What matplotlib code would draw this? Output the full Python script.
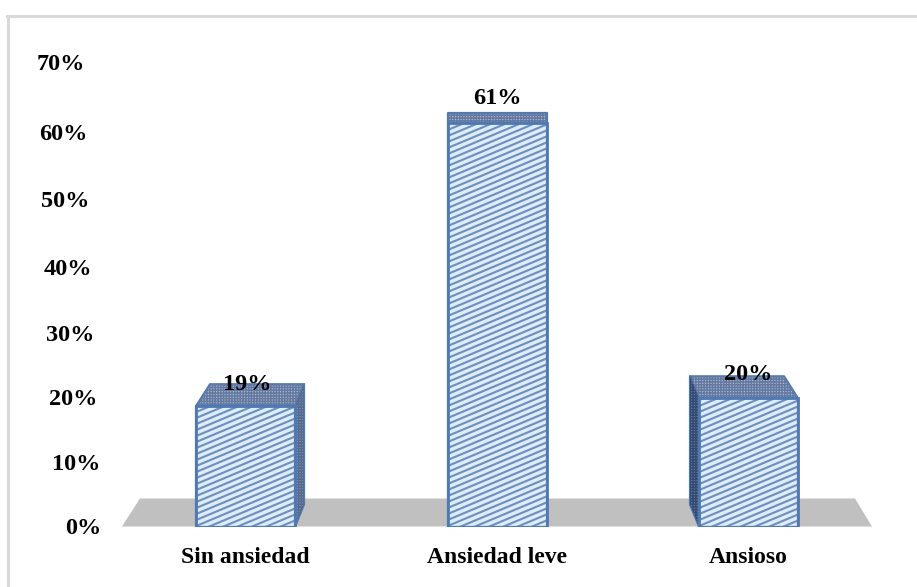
import numpy as np
import matplotlib
matplotlib.use("Agg")
import matplotlib.pyplot as plt
from matplotlib.patches import Polygon
from matplotlib.collections import LineCollection
from matplotlib.transforms import ScaledTranslation

categories = ["Sin ansiedad", "Ansiedad leve", "Ansioso"]
# heights as drawn (the 3D chart draws the two short bars a bit under their labels)
heights = [18.2, 61, 19.4]
bar_labels = ["19%", "61%", "20%"]
yticks = [0, 10, 20, 30, 40, 50, 60, 70]
ytick_labels = ["0%", "10%", "20%", "30%", "40%", "50%", "60%", "70%"]

W, H = 917, 587
dpi = 100
plt.rcParams["hatch.linewidth"] = 1.0
fig = plt.figure(figsize=(W / dpi, H / dpi), dpi=dpi, facecolor="white")

# pixel layout of the plot area
x0_px, x2_px = 245.5, 748.5
y0_px, y70_px = 526.5, 64.0
px_per_cat = (x2_px - x0_px) / 2
left = x0_px - 0.5 * px_per_cat
width = 3 * px_per_cat
ax = fig.add_axes([left / W, 1 - y0_px / H, width / W, (y0_px - y70_px) / H])
ax.set_xlim(-0.5, 2.5)
ax.set_ylim(0, 70)
ax.patch.set_alpha(0)
for s in ax.spines.values():
    s.set_visible(False)

px_per_pct = (y0_px - y70_px) / 70


def dx(p):
    return p / px_per_cat


def dy(p):
    return p / px_per_pct


font = {"family": "Liberation Serif", "weight": "bold"}
ax.set_yticks(yticks)
ax.set_yticklabels(ytick_labels, fontsize=17.5, **font)
ax.set_xticks(range(3))
ax.set_xticklabels(categories, fontsize=17, **font)
ax.tick_params(length=0, pad=0, axis="both")
ax.tick_params(axis="x", pad=15)

# tick labels lean with the perspective of the chart
label_right = [101, 100, 97, 94, 92, 89, 87, 85]
label_shift = [0, -2, -3, -5, -5, -3, -2, 2]
for lab, r, sh in zip(ax.get_yticklabels(), label_right, label_shift):
    lab.set_transform(lab.get_transform() + ScaledTranslation((r - left) / dpi, sh / dpi, fig.dpi_scale_trans))
    lab.set_color("black")

# grey floor
floor = Polygon([(-0.5 + dx(122 - left), 0), (-0.5 + dx(140 - left), dy(28)),
                 (-0.5 + dx(855 - left), dy(28)), (-0.5 + dx(872 - left), 0)],
                closed=True, facecolor="#c0c0c0", edgecolor="none", zorder=1)
ax.add_patch(floor)

edge = "#4f79b4"
half = dx(49.5)
depth_y = dy(22)


def hatch_lines(poly, spacing, slope, color, lw):
    # shallow diagonal stripes clipped to the face
    xs = poly.get_xy()[:, 0] * px_per_cat
    ys = poly.get_xy()[:, 1] * px_per_pct
    c_min = (ys - slope * xs).min()
    c_max = (ys - slope * xs).max()
    segs = []
    for c in np.arange(c_min, c_max, spacing):
        xa, xb = xs.min(), xs.max()
        segs.append([(xa / px_per_cat, (slope * xa + c) / px_per_pct),
                     (xb / px_per_cat, (slope * xb + c) / px_per_pct)])
    lc = LineCollection(segs, colors=color, linewidths=lw, zorder=poly.get_zorder() + 0.1)
    ax.add_collection(lc)
    lc.set_clip_path(poly)


def face(points, fc, z, grid=None):
    p = Polygon(points, closed=True, facecolor=fc, edgecolor=edge, linewidth=1.6, zorder=z, joinstyle="round")
    ax.add_patch(p)
    if grid:
        ax.add_patch(Polygon(points, closed=True, fill=False, edgecolor=grid, linewidth=0, hatch="++++++",
                             zorder=z + 0.1))
    return p


# side face goes right on the first bar, left on the last, none in the middle
side_dir = [1, 0, -1]
depths = [depth_y, dy(10), depth_y]
side_w = [dx(9), 0, dx(-9)]
for i, h in enumerate(heights):
    l, r = i - half, i + half
    d = depths[i]
    # top face
    if side_dir[i] == 1:
        top_pts = [(l, h), (r, h), (r + side_w[i], h + d), (l + dx(14), h + d)]
    elif side_dir[i] == -1:
        top_pts = [(l, h), (r, h), (r - dx(14), h + d), (l + side_w[i], h + d)]
    else:
        top_pts = [(l, h), (r, h), (r, h + d), (l, h + d)]
    face(top_pts, "#a3b2cf", 3, grid="#64799f")

    if side_dir[i] != 0:
        edge_x = r if side_dir[i] == 1 else l
        side_pts = [(edge_x, 0), (edge_x, h), (edge_x + side_w[i], h + d), (edge_x + side_w[i], d)]
        face(side_pts, "#7f93b6" if side_dir[i] == 1 else "#5f769e", 3,
             grid="#556a8e" if side_dir[i] == 1 else "#34496f")

    front = face([(l, 0), (r, 0), (r, h), (l, h)], "#dcedfa", 4)
    hatch_lines(front, 6.0, 0.42, "#6f8ebd", 1.5)
    # redraw outline above the stripes
    ax.add_patch(Polygon(front.get_xy(), closed=True, fill=False, edgecolor=edge, linewidth=2, zorder=5))

label_y_px = [384, 99, 374]
label_x_shift = [1.5, 0, 0]
for i, t in enumerate(bar_labels):
    ax.text(i + dx(label_x_shift[i]), (y0_px - label_y_px[i]) / px_per_pct, t, ha="center", va="center",
            fontsize=17.5, color="black", zorder=6, **font)

# chart frame: only the left and top edges show in the picture
border = "#d9d9d9"
fig.add_artist(plt.Line2D([7.5 / W, 7.5 / W], [0, 1 - 15.5 / H], color=border, lw=2.2, transform=fig.transFigure))
fig.add_artist(plt.Line2D([6.5 / W, 1], [1 - 16 / H, 1 - 16 / H], color=border, lw=2.2, transform=fig.transFigure))

fig.savefig("out.png", dpi=dpi)
